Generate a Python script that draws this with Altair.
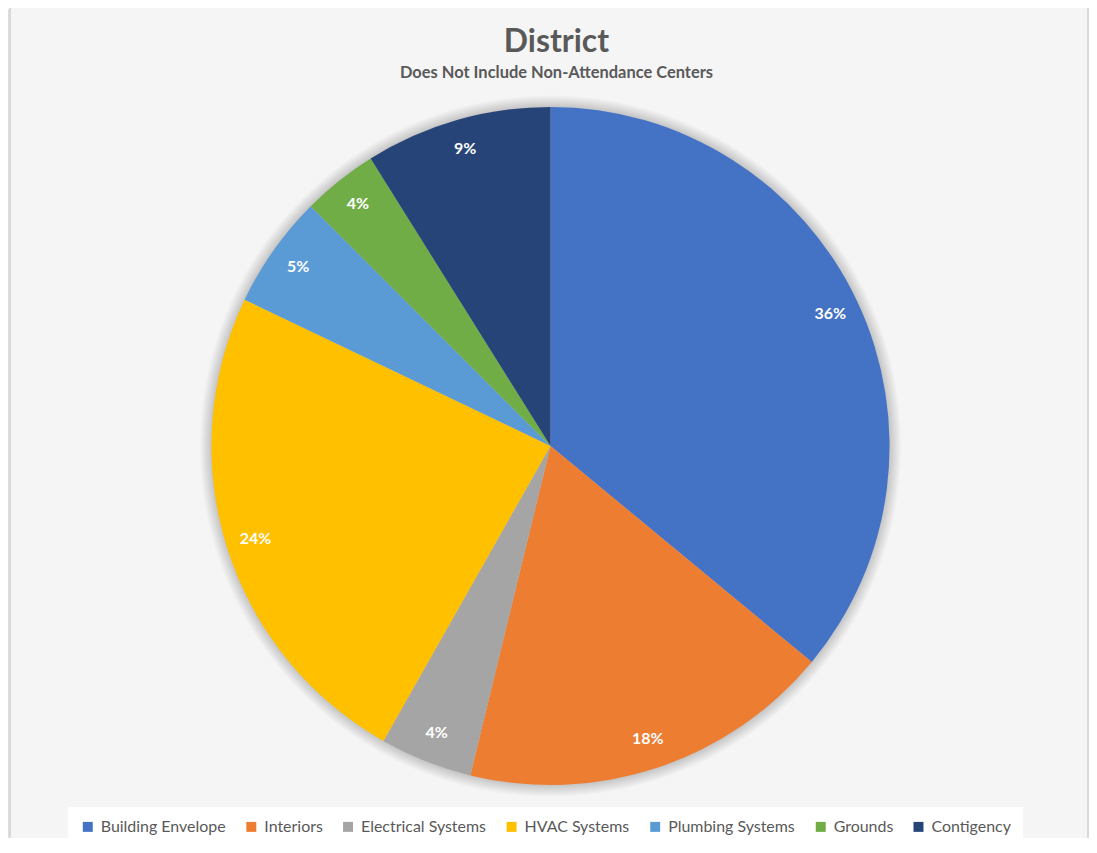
import math
import altair as alt
import pandas as pd

# ---- data ----
categories = ["Building Envelope", "Interiors", "Electrical Systems", "HVAC Systems",
              "Plumbing Systems", "Grounds", "Contigency"]
shares = [36.0, 17.8, 4.4, 23.9, 5.4, 3.6, 8.9]   # percent of total
colors = ["#4472C4", "#ED7D31", "#A5A5A5", "#FFC000", "#5B9BD5", "#70AD47", "#264478"]

title_text = "District"
subtitle_text = "Does Not Include Non-Attendance Centers"

df = pd.DataFrame({"category": categories, "share": shares,
                   "order": list(range(len(categories)))})
df["frac"] = df["share"] / 100.0

W, H = 1084, 830
CX, CY, R = 544, 438, 340
FONT = "Lato"
TXT = "#595959"
BG = "#f5f5f5"

frame = alt.Chart(pd.DataFrame({"k": [0]})).mark_rect(
    fill=BG, stroke="#d9d9d9", strokeWidth=2
).encode(x=alt.value(2), x2=alt.value(1083), y=alt.value(-6), y2=alt.value(900))

glow = alt.Chart(pd.DataFrame({"k": [0]})).mark_arc(
    theta=0, theta2=2 * math.pi, outerRadius=R + 12,
    fill=alt.RadialGradient(
        gradient="radial",
        stops=[alt.GradientStop(offset=0, color="#c4c4c4"),
               alt.GradientStop(offset=0.965, color="#c4c4c4"),
               alt.GradientStop(offset=1, color=BG)],
        x1=0.5, y1=0.5, r1=0, x2=0.5, y2=0.5, r2=0.5),
).encode(x=alt.value(CX), y=alt.value(CY))

base = alt.Chart(df).encode(
    theta=alt.Theta("share:Q", stack=True),
    order=alt.Order("order:Q"),
)

pie = base.mark_arc(outerRadius=R).encode(
    x=alt.value(CX), y=alt.value(CY),
    color=alt.Color(
        "category:N",
        scale=alt.Scale(domain=categories, range=colors),
        sort=categories,
        legend=alt.Legend(
            title=None, orient="none", direction="horizontal",
            legendX=60, legendY=800,
            fillColor="#ffffff", padding=12,
            symbolType="square", symbolSize=100, symbolStrokeWidth=0,
            labelFont=FONT, labelFontSize=16, labelColor=TXT,
            labelOffset=5, columnPadding=17, labelLimit=300,
        ),
    ),
)

labels = base.mark_text(
    radius=310, font=FONT, fontSize=16, fontWeight="bold", color="white"
).encode(
    x=alt.value(CX), y=alt.value(CY),
    text=alt.Text("frac:Q", format=".0%"),
)

chart = alt.layer(frame, glow, pie, labels).properties(
    width=W, height=H,
    autosize=alt.AutoSizeParams(type="none"),
    padding=0,
    title=alt.TitleParams(
        text=title_text, subtitle=subtitle_text, anchor="middle", frame="group",
        font=FONT, fontSize=32, fontWeight="bold", color=TXT,
        subtitleFont=FONT, subtitleFontSize=16.5, subtitleFontWeight="bold",
        subtitleColor=TXT, subtitlePadding=7, offset=-81, dx=8,
    ),
).configure_view(stroke=None).configure(background="#ffffff")

chart.save("out.html", embed_options={"renderer": "svg", "actions": False})
